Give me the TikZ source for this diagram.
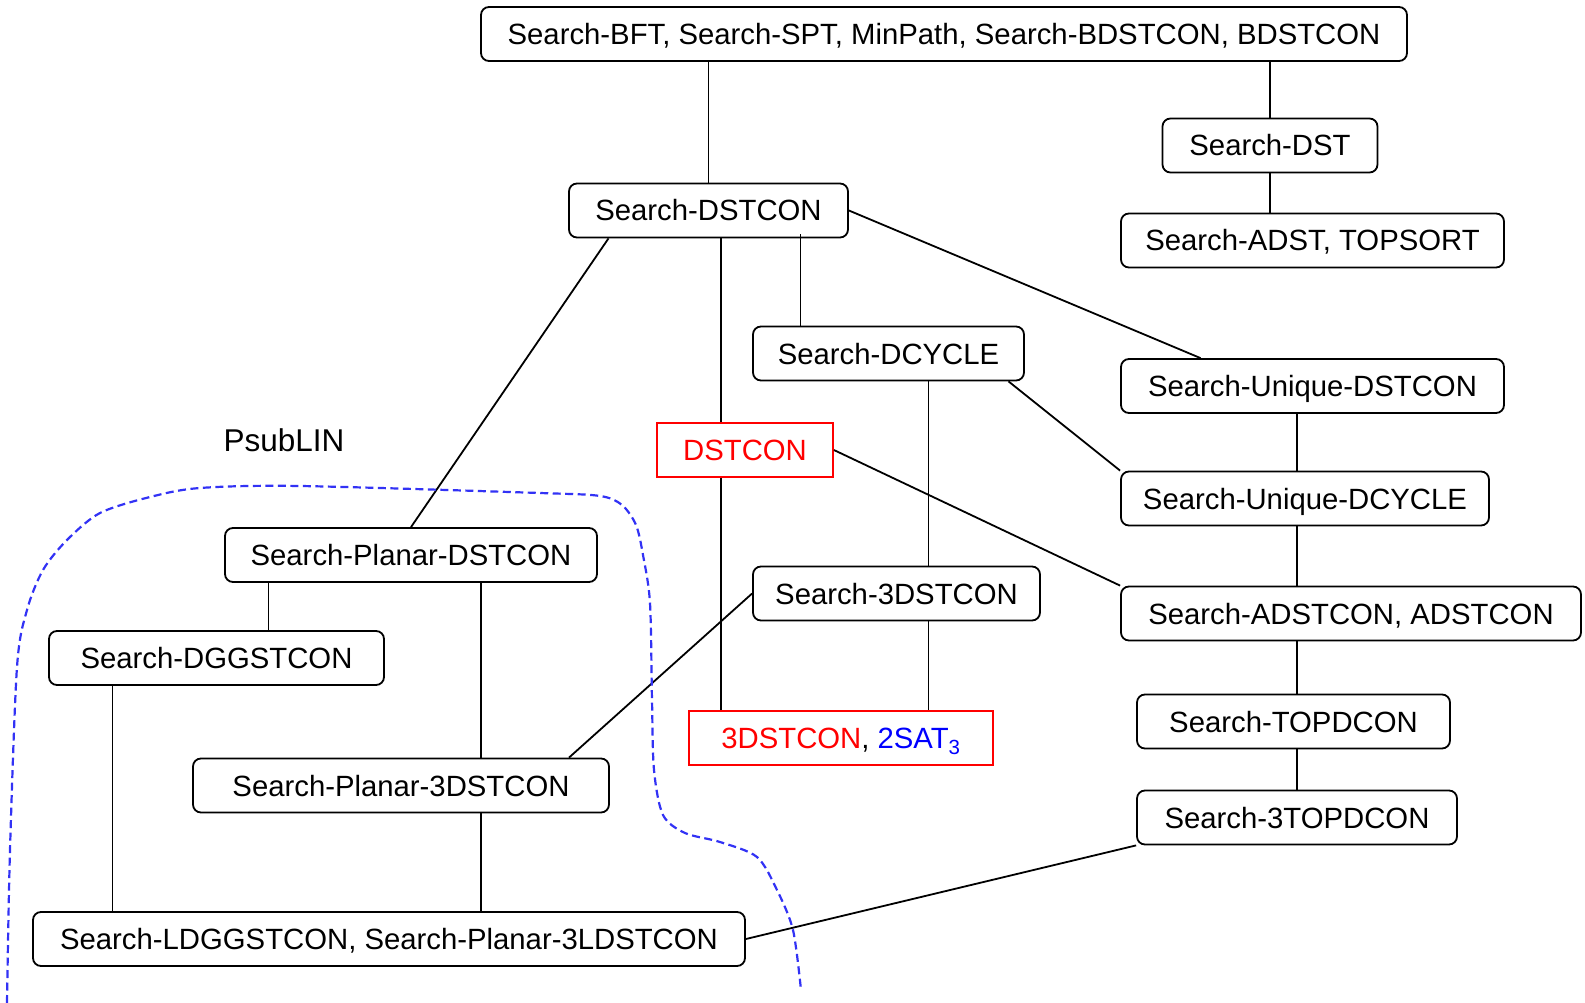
\documentclass[tikz,border=0pt]{standalone}
\usepackage{fontspec}
\setmainfont{Liberation Sans}
\usepackage{tikz}
\usepackage{xcolor}
\definecolor{psubblue}{RGB}{50,50,245}

\tikzset{
	problem/.style={draw, line width=1.8pt, rounded corners=8pt, inner xsep=18pt, inner ysep=16.5pt, text height=21pt, text depth=0pt, font=\fontsize{29.3}{35}\selectfont},
	hardproblem/.style={problem, draw=red, sharp corners, text=red},
	link/.style={line width=1.8pt},
	region/.style={psubblue, line width=2.2pt, dash pattern=on 8pt off 4.5pt}
}

\begin{document}
\begin{tikzpicture}[x=1pt, y=-1pt]
	\useasboundingbox (0,0) rectangle (1585,1003);
	\node[problem, minimum width=926] (allSearch) at (944,34) {Search-BFT, Search-SPT, MinPath, Search-BDSTCON, BDSTCON};
	\node[problem, minimum width=215] (searchDST) at (1270,145.5) {Search-DST};
	\node[problem, minimum width=383] (searchADST) at (1312.5,240.5) {Search-ADST, TOPSORT};
	\node[problem, minimum width=279] (searchDSTCON) at (708.5,210.5) {Search-DSTCON};
	\node[problem, minimum width=271] (searchDCYCLE) at (888.5,353.5) {Search-DCYCLE};
	\node[problem, minimum width=383] (uniqueDSTCON) at (1312.5,386) {Search-Unique-DSTCON};
	\node[hardproblem, minimum width=176] (dstcon) at (745,450) {DSTCON};
	\node[problem, minimum width=368] (uniqueDCYCLE) at (1305,498.5) {Search-Unique-DCYCLE};
	\node[problem, minimum width=372] (planarDSTCON) at (411,555) {Search-Planar-DSTCON};
	\node[problem, minimum width=287] (search3DSTCON) at (896.5,593.5) {Search-3DSTCON};
	\node[problem, minimum width=460] (searchADSTCON) at (1351,613.5) {Search-ADSTCON, ADSTCON};
	\node[problem, minimum width=335] (searchDGGSTCON) at (216.5,658) {Search-DGGSTCON};
	\node[hardproblem, minimum width=304] (threeDSTCON) at (841,738) {3DSTCON\textcolor{black}{,} \textcolor{blue}{2SAT\textsubscript{3}}};
	\node[problem, minimum width=313] (searchTOPDCON) at (1293.5,721.5) {Search-TOPDCON};
	\node[problem, minimum width=416] (planar3DSTCON) at (401,785.5) {Search-Planar-3DSTCON};
	\node[problem, minimum width=320] (search3TOPDCON) at (1297,817.5) {Search-3TOPDCON};
	\node[problem, minimum width=712] (searchLDGGSTCON) at (389,939) {Search-LDGGSTCON, Search-Planar-3LDSTCON};
	\node[font=\fontsize{31.5}{37}\selectfont] (psubLabel) at (284,440) {PsubLIN};

	\draw[link] (allSearch.south -| searchDSTCON) -- (searchDSTCON);
	\draw[link] (allSearch.south -| searchDST) -- (searchDST);
	\draw[link] (searchDST) -- (searchDST |- searchADST.north);

	\draw[link] ([xshift=-100]searchDSTCON.south) -- (planarDSTCON.north);
	\draw[link] ([xshift=-24]dstcon.north) -- ([xshift=-24]dstcon.north |- searchDSTCON.south);
	\draw[link] ([xshift=-24]dstcon.south) -- ([xshift=-24]dstcon.south |- threeDSTCON.north);
	\draw[link] ([xshift=-88]searchDCYCLE.north) -- ([xshift=-88,yshift=4]searchDCYCLE.north |- searchDSTCON.south);
	\draw[link] (searchDSTCON.east) -- ([xshift=-112]uniqueDSTCON.north);

	\draw[link] ([xshift=32]search3DSTCON.north) -- ([xshift=32]search3DSTCON.north |- searchDCYCLE.south);
	\draw[link] ([xshift=32]search3DSTCON.south) -- ([xshift=32]search3DSTCON.south |- threeDSTCON.north);
	\draw[link] ([xshift=120]searchDCYCLE.south) -- (uniqueDCYCLE.north west);
	\draw[link] (dstcon.east) -- (searchADSTCON.north west);
	\draw[link] (search3DSTCON.west) -- ([xshift=168]planar3DSTCON.north);

	\draw[link] (uniqueDSTCON.south -| search3TOPDCON) -- (uniqueDCYCLE.north -| search3TOPDCON);
	\draw[link] (uniqueDCYCLE.south -| search3TOPDCON) -- (searchADSTCON.north -| search3TOPDCON);
	\draw[link] (searchADSTCON.south -| search3TOPDCON) -- (searchTOPDCON.north -| search3TOPDCON);
	\draw[link] (searchTOPDCON.south -| search3TOPDCON) -- (search3TOPDCON);
	\draw[link] (search3TOPDCON.south west) -- (searchLDGGSTCON.east);

	\draw[link] ([xshift=52]searchDGGSTCON.north) -- ([xshift=52]searchDGGSTCON.north |- planarDSTCON.south);
	\draw[link] ([xshift=80]planar3DSTCON.north) -- ([xshift=80]planar3DSTCON.north |- planarDSTCON.south);
	\draw[link] ([xshift=80]planar3DSTCON.south) -- ([xshift=80]planar3DSTCON.south |- searchLDGGSTCON.north);
	\draw[link] ([xshift=-104]searchDGGSTCON.south) -- ([xshift=-104]searchDGGSTCON.south |- searchLDGGSTCON.north);

	% PsubLIN boundary
	\draw[region] plot[smooth, tension=0.5] coordinates {(7,1003) (10,850) (17,667) (27,610) (43,570) (67,540) (100,513) (150,497) (200,488) (300,486) (540,493) (600,496) (622,505) (636,525) (643,555) (650,603) (652,700) (654,770) (663,815) (685,833) (720,842) (757,857) (777,890) (793,930) (801,990)};
\end{tikzpicture}
\end{document}
